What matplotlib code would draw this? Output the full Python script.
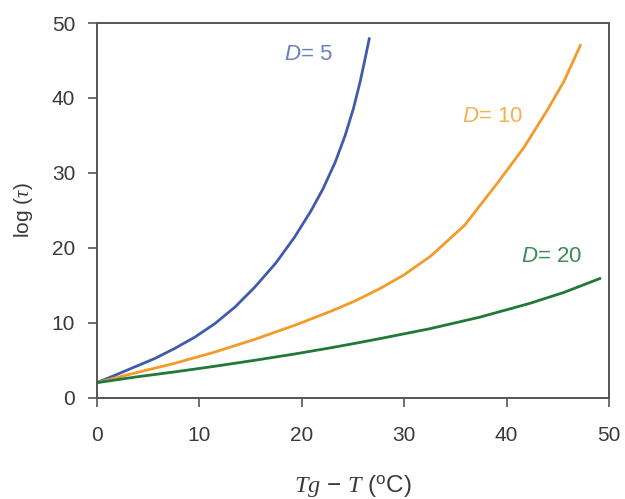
import matplotlib
matplotlib.use("Agg")
import matplotlib.pyplot as plt

plt.rcParams['font.family'] = ['Liberation Sans', 'DejaVu Sans']
plt.rcParams['mathtext.fontset'] = 'custom'
plt.rcParams['mathtext.rm'] = 'Liberation Sans'
plt.rcParams['mathtext.it'] = 'Liberation Serif:italic'
plt.rcParams['mathtext.sf'] = 'Liberation Sans:italic'

# Data
x_d5 = [0, 1.8, 3.7, 5.7, 7.65, 9.6, 11.55, 13.5, 15.46, 17.5, 19.3, 20.9,
        22.1, 23.3, 24.25, 25.06, 25.7, 26.2, 26.6]
y_d5 = [2.0, 3.0, 4.1, 5.25, 6.6, 8.1, 9.9, 12.1, 14.8, 18.0, 21.4, 24.9,
        27.9, 31.5, 35.0, 38.6, 42.1, 45.25, 47.9]

x_d10 = [0, 3.74, 7.65, 11.55, 15.46, 19.4, 22.8, 25.2, 27.7, 30.0, 32.6,
         35.9, 39.2, 41.7, 43.9, 45.6, 47.2]
y_d10 = [2.0, 3.3, 4.6, 6.1, 7.8, 9.7, 11.5, 12.9, 14.6, 16.4, 18.9,
         23.0, 28.8, 33.4, 38.2, 42.2, 47.0]

x_d20 = [0, 3.74, 7.65, 11.55, 15.46, 19.4, 22.8, 25.2, 27.7, 32.5, 37.4,
         42.3, 45.6, 49.1]
y_d20 = [2.0, 2.75, 3.45, 4.2, 5.0, 5.85, 6.65, 7.25, 7.9, 9.2, 10.75,
         12.6, 14.05, 15.9]

label_values = ['5', '10', '20']
xticks = [0, 10, 20, 30, 40, 50]
yticks = [0, 10, 20, 30, 40, 50]

line_colors = ['#3F5BAA', '#F39A2A', '#1E7A36']
text_colors = ['#6A80BE', '#F2B251', '#3E8A55']

fig = plt.figure(figsize=(6.25, 4.99), dpi=100)
ax = fig.add_axes([0.1547, 0.2030, 0.8197, 0.7509])

for xs, ys, c in zip([x_d5, x_d10, x_d20], [y_d5, y_d10, y_d20], line_colors):
    ax.plot(xs, ys, color=c, lw=2.0, solid_joinstyle='round')

label_pos = [(20.7, 45.8), (38.6, 37.5), (44.4, 18.8)]
for val, (lx, ly), c in zip(label_values, label_pos, text_colors):
    ax.text(lx, ly, r'$\mathsf{D}$= ' + val, color=c, fontsize=16,
            ha='center', va='center')

ax.set_xlim(0, 50)
ax.set_ylim(0, 50)
ax.set_xticks(xticks)
ax.set_yticks(yticks)
ax.tick_params(axis='both', direction='out', length=6.5, width=1.2,
               color='#555555', labelsize=15, labelcolor='#3a3a3a')
ax.tick_params(axis='x', pad=14)
ax.tick_params(axis='y', pad=9)
for s in ax.spines.values():
    s.set_color('#555555')
    s.set_linewidth(1.4)

ax.set_ylabel(r'log ($\tau$)', fontsize=15, color='#3a3a3a', labelpad=12)
ax.set_xlabel(r'$Tg$ $-$ $T$ ($^{\rm o}$C)', fontsize=17.5,
              color='#3a3a3a', labelpad=20)

fig.savefig('out.png', dpi=100)
